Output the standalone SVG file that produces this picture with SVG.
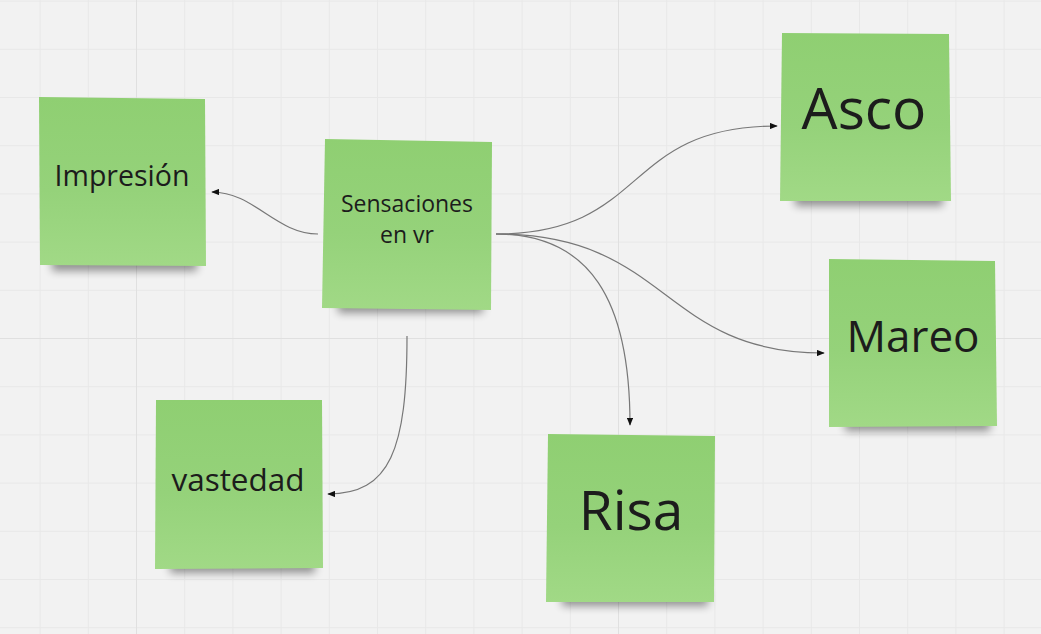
<svg xmlns="http://www.w3.org/2000/svg" width="1041" height="634" viewBox="0 0 1041 634">
<defs>
<style>
.note-text{font-family:"Open Sans","Noto Sans",sans-serif;fill:#1c1c1c;text-anchor:middle}
.conn{fill:none;stroke:#777;stroke-width:1.2}
</style>
<pattern id="grid" x="136" y="338" width="48.2" height="48.2" patternUnits="userSpaceOnUse">
<path d="M0.5 0V48.2M0 0.5H48.2" stroke="#e8e8e8" stroke-width="1" fill="none"/>
</pattern>
<pattern id="gridMajor" x="136" y="338" width="482" height="482" patternUnits="userSpaceOnUse">
<path d="M0.5 0V482M0 0.5H482" stroke="#e0e0e0" stroke-width="1" fill="none"/>
</pattern>
<linearGradient id="paper" x1="0" y1="0" x2="0" y2="1">
<stop offset="0" stop-color="#8fcf72"/>
<stop offset="0.55" stop-color="#95d27a"/>
<stop offset="1" stop-color="#a1d986"/>
</linearGradient>
<filter id="blur" x="-20%" y="-100%" width="140%" height="300%">
<feGaussianBlur stdDeviation="4.5"/>
</filter>
<marker id="arr" viewBox="0 0 10 8" refX="9" refY="4" markerWidth="8" markerHeight="6.4" markerUnits="userSpaceOnUse" orient="auto">
<path d="M0 0L10 4L0 8Z" fill="#111"/>
</marker>
</defs>
<rect width="1041" height="634" fill="#f2f2f2"/>
<rect width="1041" height="634" fill="url(#grid)"/>
<rect width="1041" height="634" fill="url(#gridMajor)"/>

<g id="connectors">
<path class="conn" d="M318 234C276 234 254 192 212 192" marker-end="url(#arr)"/>
<path class="conn" d="M496 234C650 234 620 126 777 126" marker-end="url(#arr)"/>
<path class="conn" d="M496 234C670 234 660 353 824 353" marker-end="url(#arr)"/>
<path class="conn" d="M496 234C590 234 630 300 630 425" marker-end="url(#arr)"/>
<path class="conn" d="M407 336C407 450 390 494 328 494" marker-end="url(#arr)"/>
</g>

<g id="node-impresion">
<rect x="52" y="256" width="145" height="15" fill="#000" opacity="0.4" filter="url(#blur)"/>
<polygon points="39,97 205,99 206,266 40,265" fill="url(#paper)"/>
<text class="note-text" x="122" y="186" font-size="28.5">Impresión</text>
</g>

<g id="node-sensaciones">
<rect x="338" y="298" width="145" height="15" fill="#000" opacity="0.4" filter="url(#blur)"/>
<polygon points="325,139 492,142 491,310 322,308" fill="url(#paper)"/>
<text class="note-text" x="407" y="212" font-size="23">Sensaciones</text>
<text class="note-text" x="407" y="243" font-size="23">en vr</text>
</g>

<g id="node-asco">
<rect x="795" y="191" width="148" height="15" fill="#000" opacity="0.4" filter="url(#blur)"/>
<polygon points="782,33 949,34 951,201 780,201" fill="url(#paper)"/>
<text class="note-text" x="864" y="129" font-size="57">Asco</text>
</g>

<g id="node-mareo">
<rect x="845" y="416" width="145" height="15" fill="#000" opacity="0.4" filter="url(#blur)"/>
<polygon points="829,259 995,261 997,426 829,427" fill="url(#paper)"/>
<text class="note-text" x="913" y="352" font-size="44">Mareo</text>
</g>

<g id="node-risa">
<rect x="562" y="591" width="146" height="15" fill="#000" opacity="0.4" filter="url(#blur)"/>
<polygon points="548,434 715,436 714,602 546,602" fill="url(#paper)"/>
<text class="note-text" x="631" y="530" font-size="55">Risa</text>
</g>

<g id="node-vastedad">
<rect x="170" y="558" width="145" height="15" fill="#000" opacity="0.4" filter="url(#blur)"/>
<polygon points="156,400 322,400 323,568 155,569" fill="url(#paper)"/>
<text class="note-text" x="238" y="491" font-size="31.5">vastedad</text>
</g>
</svg>
